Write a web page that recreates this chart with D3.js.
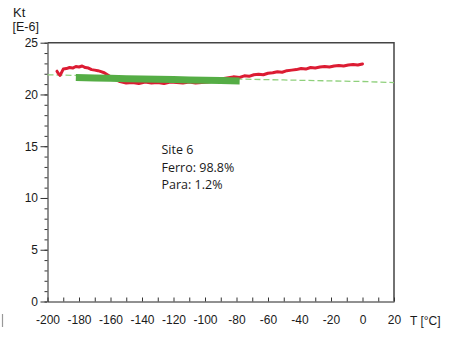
<!DOCTYPE html>
<html>
<head>
<meta charset="utf-8">
<script src="https://cdn.jsdelivr.net/npm/d3@7"></script>
<style>
  html, body { margin: 0; padding: 0; background: #fff; }
  svg { display: block; }
  .tick text { font-family: "Liberation Sans", Arial, sans-serif; font-size: 12px; fill: #1a1a1a; }
</style>
</head>
<body>
<svg id="chart" width="454" height="337"></svg>
<script>
// Temperature sweep of the total susceptibility Kt (×1e-6)
const redT = [-194, -193, -192, -190, -188, -186, -184, -182, -180, -178, -176, -174, -172, -170, -168, -166, -164, -162, -160, -157, -154,
  -150, -146, -142, -138, -134, -130, -126, -122, -118, -114, -110, -106, -102, -98, -94, -90,
  -86, -82, -78, -75, -72, -69, -66, -63, -60, -57, -54, -51, -48, -45, -42, -39, -36, -33, -30, -27, -24, -21, -18, -15, -12, -9, -6, -3, 0];
const redKt = [22.25, 22.0, 21.85, 22.45, 22.5, 22.6, 22.55, 22.7, 22.65, 22.75, 22.6, 22.55, 22.4, 22.35, 22.3, 22.2, 22.1, 21.9, 21.7, 21.45, 21.25,
  21.1, 21.15, 21.05, 21.2, 21.1, 21.15, 21.05, 21.2, 21.15, 21.1, 21.2, 21.1, 21.15, 21.2, 21.3, 21.5,
  21.6, 21.7, 21.65, 21.8, 21.75, 21.9, 21.95, 21.9, 22.05, 22.1, 22.2, 22.15, 22.3, 22.35, 22.4, 22.5, 22.45, 22.6, 22.55, 22.65, 22.7, 22.65, 22.75, 22.8, 22.75, 22.85, 22.9, 22.85, 22.95];

// Ferromagnetic fit segment (thick) and its extrapolation (dashed)
const fitT = [-182, -170, -160, -150, -140, -130, -120, -110, -100, -90, -78];
const fitKt = [21.65, 21.6, 21.56, 21.52, 21.5, 21.46, 21.44, 21.4, 21.38, 21.34, 21.3];
const lineT = [-200, -150, -100, -50, 0, 20];
const lineKt = [21.9, 21.72, 21.55, 21.4, 21.25, 21.15];

const xTicks = [-200, -180, -160, -140, -120, -100, -80, -60, -40, -20, 0, 20];
const yTicks = [0, 5, 10, 15, 20, 25];
const notes = ["Site 6", "Ferro: 98.8%", "Para: 1.2%"];

const svg = d3.select("#chart");
const x = d3.scaleLinear().domain([-200, 20]).range([47.5, 394]);
const y = d3.scaleLinear().domain([0, 25]).range([301.5, 42.7]);
const fmt = d => String(d);

// frame (top and right)
svg.append("path")
  .attr("d", `M${x(-200)},${y(25)}H${x(20)}V${y(0)}`)
  .attr("fill", "none").attr("stroke", "#444").attr("stroke-width", 1.5);

// y axis: minor and major ticks on the outside
const yMinor = svg.append("g").attr("transform", `translate(${x(-200)},0)`)
  .call(d3.axisLeft(y).tickValues(d3.range(0, 26, 1)).tickSize(3).tickFormat(""));
yMinor.select(".domain").remove();
yMinor.selectAll("line").attr("stroke", "#333");
const yAxis = svg.append("g").attr("transform", `translate(${x(-200)},0)`)
  .call(d3.axisLeft(y).tickValues(yTicks).tickSize(7).tickSizeOuter(0).tickPadding(2.5).tickFormat(fmt));
yAxis.select(".domain").attr("stroke", "#222");
yAxis.selectAll("line").attr("stroke", "#333");

// x axis: ticks pointing inward
const xAxis = svg.append("g").attr("transform", `translate(0,${y(0)})`)
  .call(d3.axisBottom(x).tickValues(d3.range(-200, 21, 10)).tickSize(-4).tickSizeOuter(0).tickFormat(""));
xAxis.select(".domain").attr("stroke", "#222");
xAxis.selectAll("line").attr("stroke", "#333");
svg.append("g").attr("transform", `translate(0,${y(0)})`)
  .call(d3.axisBottom(x).tickValues(xTicks).tickSize(0).tickPadding(14).tickFormat(fmt))
  .call(g => g.select(".domain").remove());

// axis titles
const title = svg.append("g").attr("font-family", "Liberation Sans, Arial, sans-serif").attr("fill", "#1a1a1a");
title.append("text").attr("x", 13).attr("y", 16.5).attr("font-size", 13).text("Kt");
title.append("text").attr("x", 12.5).attr("y", 31).attr("font-size", 12.5).text("[E-6]");
title.append("text").attr("x", 410).attr("y", 324.5).attr("font-size", 12).text("T [°C]");
svg.append("line").attr("x1", 2.5).attr("x2", 2.5).attr("y1", 314).attr("y2", 327)
  .attr("stroke", "#999").attr("stroke-width", 1.2);

const line = d3.line().x(d => x(d[0])).y(d => y(d[1]));

// dashed extrapolation
svg.append("path").datum(d3.zip(lineT, lineKt)).attr("d", line)
  .attr("fill", "none").attr("stroke", "#8fd07c").attr("stroke-width", 1.3).attr("stroke-dasharray", "6,3");

// measured curve
svg.append("path").datum(d3.zip(redT, redKt)).attr("d", line)
  .attr("fill", "none").attr("stroke", "#dc1c33").attr("stroke-width", 3)
  .attr("stroke-linejoin", "round").attr("stroke-linecap", "round");

// fitted segment
svg.append("path").datum(d3.zip(fitT, fitKt)).attr("d", line)
  .attr("fill", "none").attr("stroke", "#55ad45").attr("stroke-width", 7);

// annotation
const note = svg.append("g").attr("font-family", "Open Sans, sans-serif").attr("font-size", 12.5).attr("fill", "#1a1a1a");
notes.forEach((t, i) => note.append("text").attr("x", 161.5).attr("y", 154 + i * 17.7).text(t));
</script>
</body>
</html>
